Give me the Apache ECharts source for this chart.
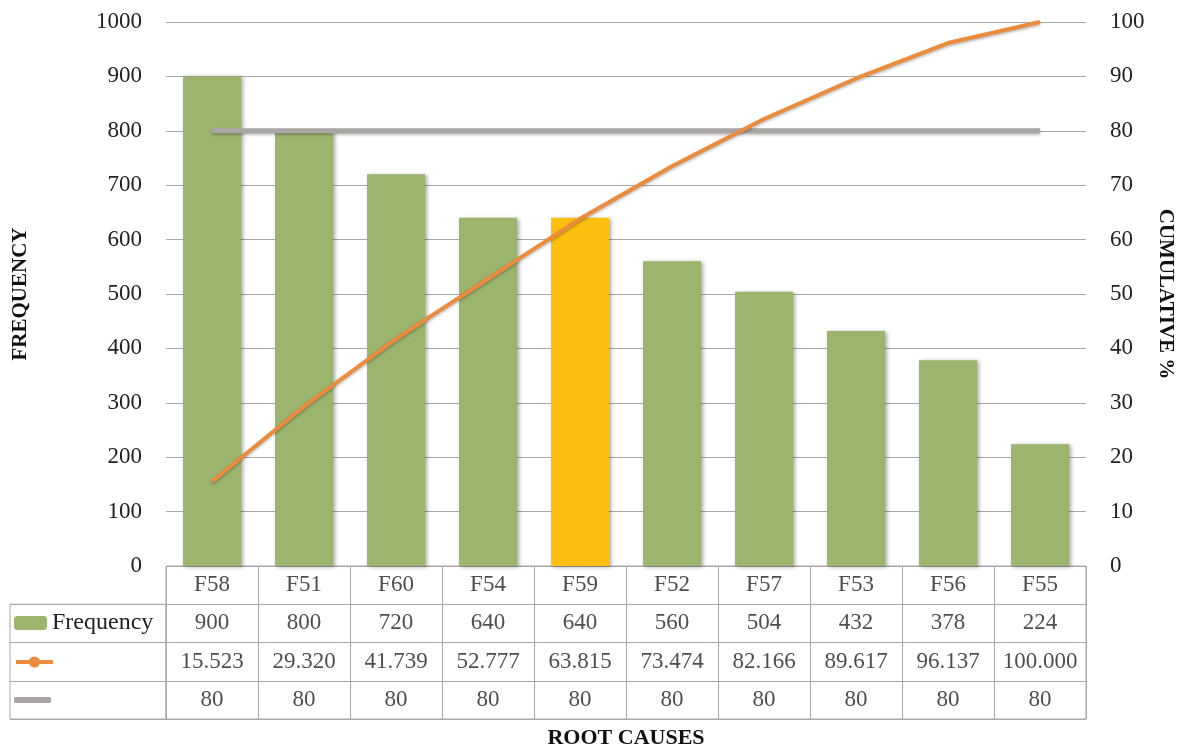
<!DOCTYPE html>
<html>
<head>
<meta charset="utf-8">
<script src="https://cdn.jsdelivr.net/npm/echarts@6/dist/echarts.min.js"></script>
<style>
  html, body { margin: 0; padding: 0; background: #fff; }
  #chart { width: 1180px; height: 748px; }
</style>
</head>
<body>
<div id="chart"></div>
<script>
// 파레토 차트 - 근본 원인별 빈도 / 누적 %
var categories = ['F58', 'F51', 'F60', 'F54', 'F59', 'F52', 'F57', 'F53', 'F56', 'F55']
var frequency = [900, 800, 720, 640, 640, 560, 504, 432, 378, 224]
var cumulative = [15.523, 29.320, 41.739, 52.777, 63.815, 73.474, 82.166, 89.617, 96.137, 100.000]
var target = [80, 80, 80, 80, 80, 80, 80, 80, 80, 80]
var highlightIndex = 4   // F59 노란색

var serif = '"Liberation Serif", "DejaVu Serif", serif'
var gridColor = '#aba7a7'
var green = '#9bb46e'
var yellow = '#fdc010'
var orange = '#eb8c3c'
var grey = '#aaa6a6'

var myChart = echarts.init(document.getElementById('chart'))

// 표 셀 텍스트 (행 0: 카테고리, 1: 빈도, 2: 누적, 3: 목표)
var rows = ['r0', 'r1', 'r2', 'r3']
var tableData = []
categories.forEach(function (c, i) {
  tableData.push([i, 'r0', c])
  tableData.push([i, 'r1', String(frequency[i])])
  tableData.push([i, 'r2', cumulative[i].toFixed(3)])
  tableData.push([i, 'r3', String(target[i])])
})

var legendBase = {
  orient: 'vertical',
  left: 14,
  padding: 0,
  itemGap: 0,
  selectedMode: false,
  textStyle: { fontFamily: serif, fontSize: 24, color: '#222', padding: [0, 0, 0, 0] }
}

var option = {
  animation: false,
  textStyle: { fontFamily: serif },
  legend: [
    Object.assign({}, legendBase, { data: ['Frequency'], top: 611, itemWidth: 33, itemHeight: 14 }),
    Object.assign({}, legendBase, {
      data: ['Cumulative'], top: 655, itemWidth: 37, itemHeight: 14,
      lineStyle: { width: 4 },
      formatter: function () { return '' }
    }),
    Object.assign({}, legendBase, {
      data: [{ name: 'Target', icon: 'roundRect' }], top: 697, itemWidth: 37, itemHeight: 6,
      formatter: function () { return '' }
    })
  ],
  grid: [
    { left: 166, width: 920, top: 22, height: 544, outerBoundsMode: 'none' },
    { left: 166, width: 920, top: 566, height: 153, outerBoundsMode: 'none', show: true, borderColor: gridColor, borderWidth: 1 },
    { left: 10, width: 156, top: 604.25, height: 114.75, outerBoundsMode: 'none', show: true, borderColor: gridColor, borderWidth: 1 }
  ],
  xAxis: [
    {
      gridIndex: 0,
      type: 'category',
      data: categories,
      axisLine: { show: false },
      axisTick: { show: false },
      axisLabel: { show: false }
    },
    {
      gridIndex: 1,
      type: 'category',
      data: categories,
      axisLine: { show: false },
      axisTick: { show: false },
      axisLabel: { show: false },
      splitLine: { show: true, lineStyle: { color: gridColor, width: 1 } },
      name: 'ROOT CAUSES',
      nameLocation: 'middle',
      nameGap: 8,
      nameTextStyle: { fontFamily: serif, fontSize: 22, fontWeight: 'bold', color: '#111', verticalAlign: 'top' }
    },
    {
      gridIndex: 2,
      type: 'value',
      show: false
    }
  ],
  yAxis: [
    {
      gridIndex: 0,
      type: 'value',
      min: 0,
      max: 1000,
      interval: 100,
      axisLine: { show: false },
      axisTick: { show: false },
      axisLabel: {
        fontFamily: serif, fontSize: 23, color: '#222', margin: 24,
        formatter: function (v) { return String(v) }
      },
      splitLine: { lineStyle: { color: gridColor, width: 1 } },
      name: 'FREQUENCY',
      nameLocation: 'middle',
      nameRotate: 90,
      nameGap: 135,
      nameTextStyle: { fontFamily: serif, fontSize: 21, fontWeight: 'bold', color: '#111' }
    },
    {
      gridIndex: 0,
      type: 'value',
      position: 'right',
      min: 0,
      max: 100,
      interval: 10,
      axisLine: { show: false },
      axisTick: { show: false },
      axisLabel: { fontFamily: serif, fontSize: 23, color: '#222', margin: 24 },
      splitLine: { show: false },
      name: 'CUMULATIVE %',
      nameLocation: 'middle',
      nameRotate: -90,
      nameGap: 68,
      nameTextStyle: { fontFamily: serif, fontSize: 21, fontWeight: 'bold', color: '#111' }
    },
    {
      gridIndex: 1,
      type: 'category',
      data: rows,
      inverse: true,
      axisLine: { show: false },
      axisTick: { show: false },
      axisLabel: { show: false },
      splitLine: { show: true, lineStyle: { color: gridColor, width: 1 } }
    },
    {
      gridIndex: 2,
      type: 'category',
      data: ['a', 'b', 'c'],
      axisLine: { show: false },
      axisTick: { show: false },
      axisLabel: { show: false },
      splitLine: { show: true, lineStyle: { color: gridColor, width: 1 } }
    }
  ],
  series: [
    {
      name: 'Frequency',
      type: 'bar',
      xAxisIndex: 0,
      yAxisIndex: 0,
      barWidth: '63%',
      data: frequency.map(function (v, i) {
        return i === highlightIndex ? { value: v, itemStyle: { color: yellow } } : v
      }),
      itemStyle: {
        color: green,
        shadowColor: 'rgba(0,0,0,0.35)',
        shadowBlur: 4,
        shadowOffsetX: 2,
        shadowOffsetY: 1
      },
      z: 2
    },
    {
      name: 'Cumulative',
      type: 'line',
      xAxisIndex: 0,
      yAxisIndex: 1,
      data: cumulative,
      symbol: 'circle',
      symbolSize: 11,
      showSymbol: false,
      itemStyle: { color: orange },
      lineStyle: {
        color: orange,
        width: 4,
        shadowColor: 'rgba(0,0,0,0.3)',
        shadowBlur: 3,
        shadowOffsetY: 1.5
      },
      z: 4
    },
    {
      name: 'Target',
      type: 'line',
      xAxisIndex: 0,
      yAxisIndex: 1,
      data: target,
      symbol: 'none',
      itemStyle: { color: grey },
      lineStyle: {
        color: grey,
        width: 5,
        shadowColor: 'rgba(0,0,0,0.3)',
        shadowBlur: 3,
        shadowOffsetY: 1.5
      },
      z: 3
    },
    {
      name: 'table',
      type: 'scatter',
      xAxisIndex: 1,
      yAxisIndex: 2,
      symbolSize: 1,
      itemStyle: { color: 'transparent' },
      silent: true,
      data: tableData,
      label: {
        show: true,
        position: 'inside',
        fontFamily: serif,
        fontSize: 23,
        color: '#222',
        formatter: function (p) { return p.value[2] }
      }
    }
  ]
}

//  차트 옵션 설정하기
myChart.setOption(option)
</script>
</body>
</html>
